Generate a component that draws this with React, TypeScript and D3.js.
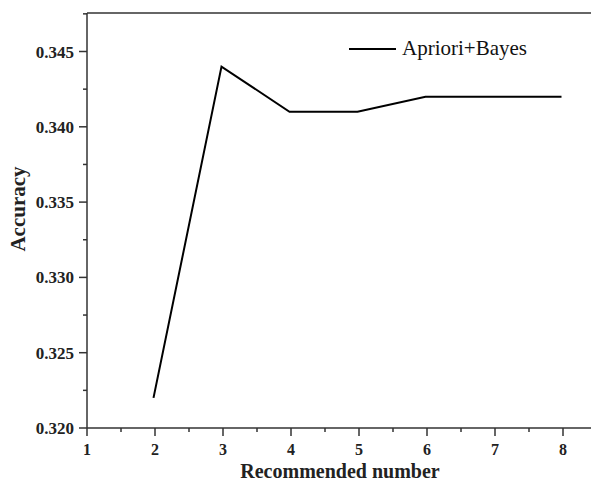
import React from "react";
import * as d3 from "d3";

const recNumbers = [2, 3, 4, 5, 6, 7, 8];
const accuracy = [0.322, 0.344, 0.341, 0.341, 0.342, 0.342, 0.342];
const xTicks = [1, 2, 3, 4, 5, 6, 7, 8];
const yTicks = [0.32, 0.325, 0.33, 0.335, 0.34, 0.345];
const seriesName = "Apriori+Bayes";

const W = 591;
const H = 482;
const left = 87;
const right = 563;
const top = 13;
const bottom = 428;

export default function App() {
  const x = d3.scaleLinear().domain([1, 8]).range([left, right]);
  const y = d3.scaleLinear().domain([0.32, 0.345]).range([bottom, bottom - 5 * 75.3]);
  const yTopVal = y.invert(top);
  const line = d3
    .line<number>()
    .x((_, i) => x(recNumbers[i]) - 1.5)
    .y((d) => y(d));
  const xMinor = d3.range(1.5, 8.6, 1);
  const yMinor = d3.range(0.3225, yTopVal, 0.005);
  const font = "'Liberation Serif', 'Times New Roman', serif";
  return (
    <svg width={W} height={H} style={{ position: "absolute", left: 0, top: 0, background: "#fff" }}>
      <g stroke="#333" strokeWidth={1.5} fill="none">
        <line x1={left} y1={top} x2={W + 5} y2={top} />
        <line x1={left} y1={top} x2={left} y2={bottom} />
        <line x1={left} y1={bottom} x2={W + 5} y2={bottom} />
        {xTicks.map((t) => (
          <line key={"xt" + t} x1={x(t)} x2={x(t)} y1={bottom} y2={bottom + 8} />
        ))}
        {xMinor.map((t) => (
          <line key={"xm" + t} x1={x(t)} x2={x(t)} y1={bottom} y2={bottom + 4} />
        ))}
        {yTicks.map((t) => (
          <line key={"yt" + t} x1={left - 8} x2={left} y1={y(t)} y2={y(t)} />
        ))}
        {yMinor.map((t) => (
          <line key={"ym" + t} x1={left - 4} x2={left} y1={y(t)} y2={y(t)} />
        ))}
      </g>
      <g fontFamily={font} fontWeight="bold" fontSize={17} fill="#222">
        {xTicks.map((t) => (
          <text key={"xl" + t} x={x(t)} y={455} textAnchor="middle" fontSize={16}>
            {t}
          </text>
        ))}
        {yTicks.map((t) => (
          <text key={"yl" + t} x={74} y={y(t) + 6} textAnchor="end">
            {t.toFixed(3)}
          </text>
        ))}
        <text x={340} y={478} textAnchor="middle" fontSize={20}>
          Recommended number
        </text>
        <text transform={`translate(25, 209) rotate(-90)`} textAnchor="middle" fontSize={21}>
          Accuracy
        </text>
      </g>
      <path d={line(accuracy) || ""} fill="none" stroke="#000" strokeWidth={2} strokeLinejoin="miter" />
      <line x1={349} x2={396} y1={49} y2={49} stroke="#000" strokeWidth={2} />
      <text x={402} y={55} fontFamily={font} fontSize={21} fill="#111">
        {seriesName}
      </text>
    </svg>
  );
}
